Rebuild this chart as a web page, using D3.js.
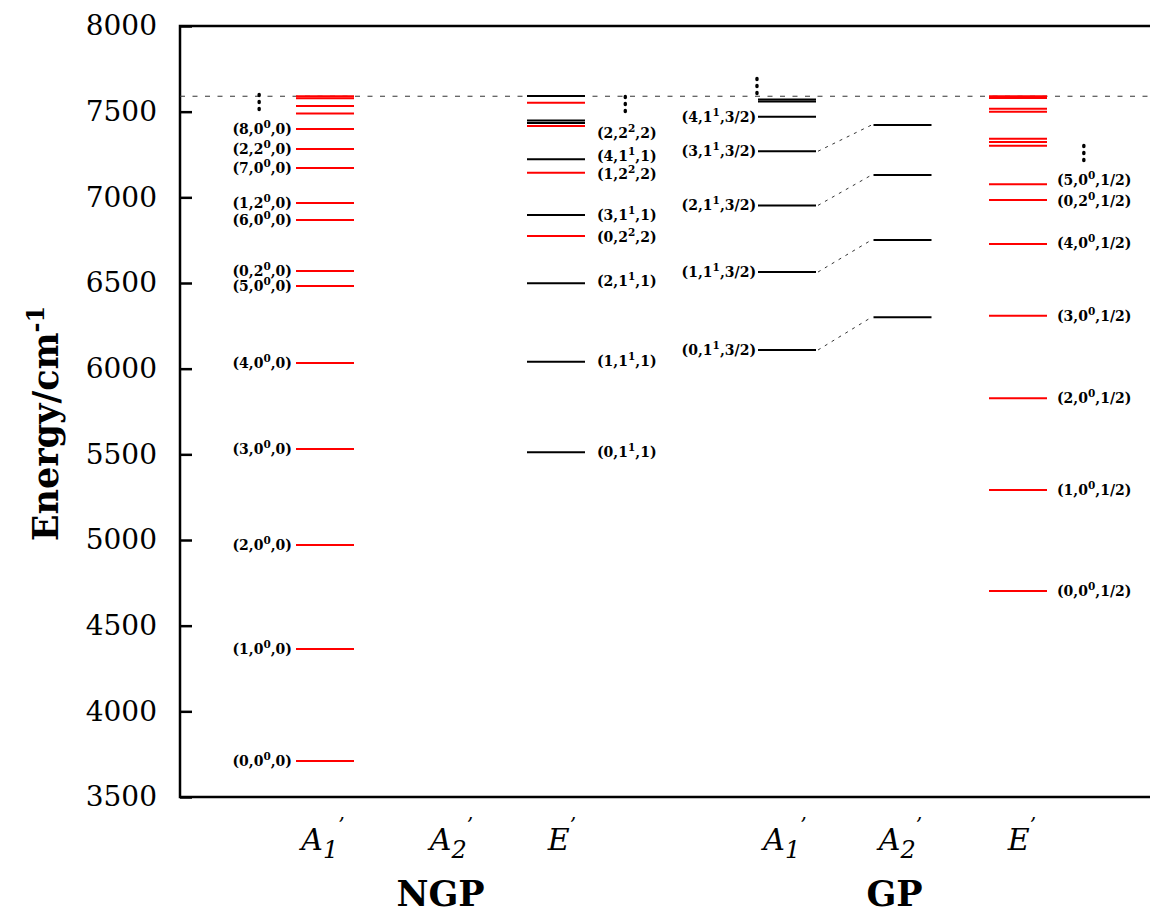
<!DOCTYPE html>
<html lang="en">
<head>
    <meta charset="UTF-8">
    <title>Energy levels NGP / GP</title>
    <script src="https://d3js.org/d3.v7.min.js"></script>
    <style>
        body { margin: 0; background: #fff; }
        svg { display: block; }
        .tick text { font-family: "DejaVu Serif", serif; font-size: 28px; fill: #000; }
        .lvl-label { font-family: "DejaVu Serif", serif; font-weight: bold; font-size: 14px; }
        .cat-label { font-family: "DejaVu Serif", serif; font-style: italic; font-size: 30px; }
        .grp-label { font-family: "DejaVu Serif", serif; font-weight: bold; font-size: 35px; }
    </style>
</head>
<body>
<div id="chart"></div>
<script>
    // energies in cm^-1
    const ngpA1 = [3710, 4364, 4971, 5531, 6033, 6482, 6570, 6868, 6967, 7171, 7282, 7399, 7490, 7533, 7578, 7590];
    const ngpA1Labels = ["(0,0^0,0)", "(1,0^0,0)", "(2,0^0,0)", "(3,0^0,0)", "(4,0^0,0)", "(5,0^0,0)",
        "(0,2^0,0)", "(6,0^0,0)", "(1,2^0,0)", "(7,0^0,0)", "(2,2^0,0)", "(8,0^0,0)"];

    const ngpEBlack = [5512, 6041, 6498, 6897, 7222, 7434, 7448, 7591];
    const ngpERed = [6774, 7144, 7416, 7552];
    const ngpELabels = ["(0,1^1,1)", "(1,1^1,1)", "(2,1^1,1)", "(0,2^2,2)", "(3,1^1,1)", "(1,2^2,2)", "(4,1^1,1)", "(2,2^2,2)"];
    const ngpELabelE = [5513, 6045, 6510, 6770, 6897, 7136, 7241, 7375];

    const gpA1 = [6109, 6564, 6953, 7269, 7471, 7559, 7571];
    const gpA1Labels = ["(0,1^1,3/2)", "(1,1^1,3/2)", "(2,1^1,3/2)", "(3,1^1,3/2)", "(4,1^1,3/2)"];
    const gpA2 = [6300, 6751, 7130, 7422];

    const gpE = [4702, 5292, 5827, 6309, 6728, 6984, 7076, 7301, 7323, 7342, 7500, 7517, 7580, 7590];
    const gpELabels = ["(0,0^0,1/2)", "(1,0^0,1/2)", "(2,0^0,1/2)", "(3,0^0,1/2)", "(4,0^0,1/2)", "(0,2^0,1/2)", "(5,0^0,1/2)"];
    const gpELabelE = [4702, 5292, 5827, 6309, 6733, 6980, 7101];

    const threshold = 7590;
    const yTicks = [3500, 4000, 4500, 5000, 5500, 6000, 6500, 7000, 7500, 8000];
    const categories = [
        { base: "A", sub: "1" }, { base: "A", sub: "2" }, { base: "E", sub: "" },
        null,
        { base: "A", sub: "1" }, { base: "A", sub: "2" }, { base: "E", sub: "" }
    ];
    const groups = ["NGP", "GP"];
    // where the "more levels" dots sit (slot offset, energy)
    const dots = [[-0.57, 7556], [2.6, 7545], [3.74, 7650], [6.57, 7259]];

    const width = 1150, height = 916;
    const mLeft = 180, mTop = 26, mBottom = 797;
    const halfW = 29;
    const catShift = [-2, 11, 6, 0, -2, -2, 4]; // small nudges of the symmetry labels

    const svg = d3.select('#chart').append('svg')
        .attr('width', width).attr('height', height);

    const y = d3.scaleLinear().domain([3500, 8000]).range([mBottom, mTop]);
    const x = d3.scaleLinear().domain([0, 6]).range([325, 1018]);

    // y axis, ticks pointing inward
    svg.append('g')
        .attr('transform', `translate(${mLeft},0)`)
        .call(d3.axisLeft(y).tickValues(yTicks).tickFormat(d3.format('d'))
            .tickSize(-12).tickSizeOuter(0).tickPadding(23))
        .call(g => g.select('.domain').remove())
        .call(g => g.selectAll('.tick line').attr('stroke', '#000').attr('stroke-width', 2.5));

    // frame
    svg.append('path')
        .attr('d', `M${width},${mTop}H${mLeft}V${mBottom}H${width}`)
        .attr('fill', 'none').attr('stroke', '#000').attr('stroke-width', 2.5);

    // dissociation threshold
    svg.append('line')
        .attr('x1', mLeft).attr('x2', width)
        .attr('y1', y(threshold)).attr('y2', y(threshold))
        .attr('stroke', '#333').attr('stroke-width', 1).attr('stroke-dasharray', '5,7.5');

    function levels(vals, slot, color) {
        svg.append('g').selectAll('line').data(vals).enter().append('line')
            .attr('x1', x(slot) - halfW).attr('x2', x(slot) + halfW)
            .attr('y1', d => y(d)).attr('y2', d => y(d))
            .attr('stroke', color).attr('stroke-width', 2);
    }

    function labels(texts, energies, xPos, anchor) {
        const t = svg.append('g').selectAll('text').data(texts).enter().append('text')
            .attr('class', 'lvl-label')
            .attr('x', xPos)
            .attr('y', (d, i) => y(energies[i]) + 5)
            .attr('text-anchor', anchor);
        t.each(function (d) {
            const el = d3.select(this);
            const k = d.indexOf('^');
            el.append('tspan').text(d.slice(0, k));
            el.append('tspan').attr('dy', -6).attr('font-size', '10.5px').text(d[k + 1]);
            el.append('tspan').attr('dy', 6).text(d.slice(k + 2));
        });
    }

    levels(ngpA1, 0, 'red');
    labels(ngpA1Labels, ngpA1.slice(0, ngpA1Labels.length), x(0) - halfW - 4, 'end');

    levels(ngpERed, 2, 'red');
    levels(ngpEBlack, 2, 'black');
    labels(ngpELabels, ngpELabelE, x(2) + halfW + 12, 'start');

    levels(gpA1, 4, 'black');
    labels(gpA1Labels, gpA1.slice(0, gpA1Labels.length), x(4) - halfW - 2, 'end');
    levels(gpA2, 5, 'black');

    // correlation lines A1' -> A2'
    svg.append('g').selectAll('line').data(gpA2).enter().append('line')
        .attr('x1', x(4) + halfW + 2).attr('x2', x(5) - halfW - 2)
        .attr('y1', (d, i) => y(gpA1[i])).attr('y2', d => y(d))
        .attr('stroke', '#000').attr('stroke-width', 0.8).attr('stroke-dasharray', '3,5');

    levels(gpE, 6, 'red');
    labels(gpELabels, gpELabelE, x(6) + halfW + 10, 'start');

    // vertical ellipsis marks
    dots.forEach(([s, e]) => {
        svg.append('g').selectAll('ellipse').data([-7, 0, 7]).enter().append('ellipse')
            .attr('cx', x(s)).attr('cy', d => y(e) + d)
            .attr('rx', 1.8).attr('ry', 2.2).attr('fill', '#000');
    });

    // y axis title
    const yt = svg.append('text')
        .attr('class', 'grp-label')
        .attr('transform', `translate(58,${(mTop + mBottom) / 2 + 12}) rotate(-90)`)
        .attr('text-anchor', 'middle');
    yt.append('tspan').text('Energy/cm');
    yt.append('tspan').attr('dy', -14).attr('font-size', '24px').text('-1');

    // symmetry labels
    categories.forEach((c, i) => {
        if (!c) return;
        const t = svg.append('text').attr('class', 'cat-label')
            .attr('x', x(i) + catShift[i]).attr('y', 850).attr('text-anchor', 'middle');
        t.append('tspan').text(c.base);
        if (c.sub) t.append('tspan').attr('dy', 8).attr('font-size', '24px').text(c.sub);
        t.append('tspan').attr('dy', c.sub ? -26 : -18).attr('font-size', '20px').text('\u2019');
    });

    // group labels
    svg.append('text').attr('class', 'grp-label')
        .attr('x', x(1)).attr('y', 906).attr('text-anchor', 'middle').text(groups[0]);
    svg.append('text').attr('class', 'grp-label')
        .attr('x', x(5) - 8).attr('y', 906).attr('text-anchor', 'middle').text(groups[1]);
</script>
</body>
</html>
